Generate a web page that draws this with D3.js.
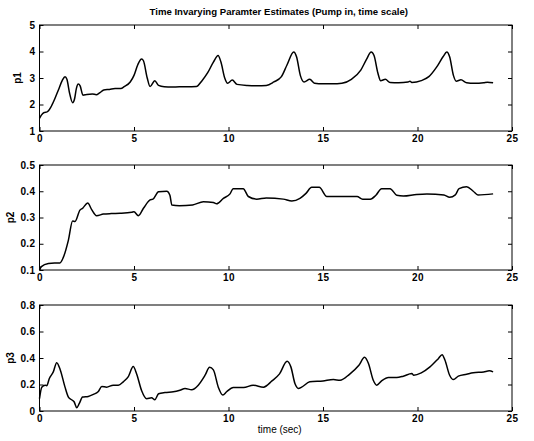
<!DOCTYPE html>
<html>
<head>
<meta charset="utf-8">
<script src="https://cdn.jsdelivr.net/npm/d3@7"></script>
<style>
  body { margin: 0; background: #fff; }
  #graph svg { display: block; }
  text { font-family: "Liberation Sans", Arial, Helvetica, sans-serif; fill: #000; }
</style>
</head>
<body>
<div id="graph"></div>
<script>
// tick labels / axis domains
const xTicks = [0, 5, 10, 15, 20, 25];
const p1Ticks = [1, 2, 3, 4, 5];
const p2Ticks = [0.1, 0.2, 0.3, 0.4, 0.5];
const p3Ticks = [0, 0.2, 0.4, 0.6, 0.8];

const titleText = "Time Invarying Paramter Estimates (Pump in, time scale)";
const xLabel = "time (sec)";

// series, [time, value]
const p1 = [[0,1.48],[0.1,1.6],[0.25,1.7],[0.4,1.72],[0.6,1.9],[0.8,2.2],[1.0,2.55],[1.2,2.9],[1.35,3.05],[1.45,2.95],
  [1.6,2.4],[1.75,2.07],[1.85,2.2],[1.95,2.6],[2.05,2.77],[2.15,2.7],[2.3,2.35],[2.5,2.38],[2.8,2.4],[3.0,2.37],
  [3.2,2.45],[3.4,2.55],[3.7,2.57],[4.0,2.6],[4.3,2.6],[4.5,2.68],[4.8,2.85],[5.0,3.1],[5.2,3.5],[5.4,3.72],
  [5.5,3.65],[5.7,3.0],[5.85,2.68],[6.1,2.9],[6.3,2.72],[6.6,2.67],[7.0,2.66],[7.4,2.67],[7.8,2.67],[8.3,2.68],
  [8.6,2.9],[8.9,3.2],[9.2,3.6],[9.45,3.85],[9.6,3.6],[9.8,3.0],[9.95,2.8],[10.2,2.92],[10.45,2.76],[11.0,2.72],
  [11.5,2.71],[12.0,2.72],[12.4,2.85],[12.8,3.05],[13.1,3.5],[13.45,3.98],[13.6,3.8],[13.8,3.1],[14.0,2.85],[14.3,2.95],
  [14.55,2.8],[15.0,2.78],[15.5,2.78],[16.0,2.8],[16.5,2.95],[17.0,3.3],[17.3,3.7],[17.55,3.98],[17.7,3.85],[17.9,3.2],
  [18.05,2.9],[18.3,2.95],[18.55,2.83],[19.0,2.82],[19.5,2.85],[19.6,2.88],[19.7,2.83],[20.2,2.9],[20.6,3.05],[21.0,3.4],
  [21.35,3.8],[21.55,3.98],[21.7,3.8],[21.9,3.1],[22.05,2.88],[22.3,2.93],[22.6,2.82],[23.0,2.8],[23.5,2.82],[23.7,2.84],[24.0,2.82]];

const p2 = [[0,0.1],[0.1,0.113],[0.47,0.125],[0.8,0.127],[1.08,0.127],[1.26,0.148],[1.53,0.214],[1.75,0.287],[1.88,0.285],
  [2.14,0.328],[2.28,0.335],[2.55,0.355],[2.76,0.33],[3.02,0.307],[3.38,0.313],[3.8,0.315],[4.26,0.316],[4.88,0.32],
  [5.0,0.322],[5.23,0.307],[5.5,0.335],[5.85,0.367],[6.0,0.37],[6.3,0.398],[6.73,0.4],[6.9,0.385],[7.0,0.348],[7.4,0.345],
  [8.1,0.348],[8.67,0.36],[9.2,0.357],[9.37,0.352],[9.73,0.373],[10.08,0.39],[10.25,0.41],[10.78,0.41],[11.05,0.38],
  [11.49,0.37],[12.0,0.374],[12.9,0.37],[13.35,0.363],[13.78,0.373],[14.1,0.392],[14.4,0.415],[14.8,0.415],[15.2,0.38],
  [16.0,0.38],[16.8,0.38],[17.1,0.37],[17.5,0.37],[17.8,0.385],[18.1,0.41],[18.55,0.41],[18.9,0.385],[19.25,0.382],
  [19.95,0.388],[20.5,0.39],[21.4,0.386],[21.7,0.377],[22.0,0.386],[22.2,0.41],[22.6,0.417],[22.95,0.4],[23.2,0.386],[24.0,0.39]];

const p3 = [[0,0.093],[0.12,0.18],[0.3,0.195],[0.38,0.19],[0.52,0.245],[0.73,0.295],[0.91,0.365],[1.1,0.31],[1.35,0.18],
  [1.53,0.105],[1.7,0.085],[1.83,0.07],[1.97,0.025],[2.1,0.055],[2.28,0.105],[2.58,0.11],[2.85,0.125],[3.1,0.145],
  [3.3,0.185],[3.55,0.18],[3.9,0.195],[4.17,0.195],[4.43,0.22],[4.7,0.26],[4.96,0.335],[5.14,0.28],[5.4,0.155],[5.67,0.093],
  [5.93,0.1],[6.1,0.085],[6.3,0.13],[6.64,0.14],[7.08,0.145],[7.43,0.157],[7.7,0.17],[8.05,0.16],[8.4,0.195],[8.76,0.27],
  [9.0,0.33],[9.2,0.31],[9.46,0.18],[9.7,0.12],[9.9,0.145],[10.25,0.178],[10.8,0.177],[11.3,0.195],[11.85,0.18],[12.3,0.227],
  [12.7,0.28],[13.1,0.375],[13.3,0.333],[13.52,0.205],[13.7,0.17],[13.87,0.18],[14.3,0.22],[15.0,0.227],[15.55,0.237],
  [15.9,0.232],[16.4,0.277],[16.9,0.345],[17.2,0.405],[17.4,0.36],[17.66,0.232],[17.84,0.195],[18.1,0.227],[18.46,0.253],
  [18.9,0.253],[19.25,0.263],[19.7,0.283],[19.8,0.27],[20.2,0.288],[20.66,0.333],[21.1,0.395],[21.3,0.425],[21.45,0.385],
  [21.7,0.27],[21.9,0.237],[22.16,0.263],[22.6,0.277],[22.95,0.288],[23.5,0.295],[23.8,0.303],[24.0,0.295]];

const panels = [
  { name: "p1", data: p1, ticks: p1Ticks, top: 25, bottom: 131, labelX: 21 },
  { name: "p2", data: p2, ticks: p2Ticks, top: 165, bottom: 270, labelX: 14 },
  { name: "p3", data: p3, ticks: p3Ticks, top: 305, bottom: 411, labelX: 14 }
];

let width = 534, height = 441;
let left = 39.5, right = 512;
let tickLen = 4;

var svg = d3.select("#graph")
            .append("svg")
            .attr("width", width)
            .attr("height", height);

var x_scale = d3.scaleLinear()
                .domain([0, 25])
                .range([left, right]);

var fmt = d3.format("");

panels.forEach(function (p) {
    let y_scale = d3.scaleLinear()
                    .domain(d3.extent(p.ticks))
                    .range([p.bottom, p.top]);

    // axes, ticks pointing inward (matlab style)
    svg.append("g")
       .attr("transform", `translate(0,${p.bottom})`)
       .call(d3.axisBottom(x_scale).tickValues(xTicks).tickSizeInner(-tickLen).tickSizeOuter(0).tickPadding(4))
       .call(g => g.select(".domain").remove());

    svg.append("g")
       .attr("transform", `translate(0,${p.top})`)
       .call(d3.axisTop(x_scale).tickValues(xTicks).tickSizeInner(-tickLen).tickSizeOuter(0).tickFormat(""))
       .call(g => g.select(".domain").remove());

    svg.append("g")
       .attr("transform", `translate(${left},0)`)
       .call(d3.axisLeft(y_scale).tickValues(p.ticks).tickSizeInner(-tickLen).tickSizeOuter(0).tickPadding(4).tickFormat(fmt))
       .call(g => g.select(".domain").remove());

    svg.append("g")
       .attr("transform", `translate(${right},0)`)
       .call(d3.axisRight(y_scale).tickValues(p.ticks).tickSizeInner(-tickLen).tickSizeOuter(0).tickFormat(""))
       .call(g => g.select(".domain").remove());

    svg.selectAll(".tick text")
       .attr("font-size", "10px")
       .attr("font-weight", "bold")
       .style("letter-spacing", "0.4px")
       .style("font-family", '"Liberation Sans", Arial, sans-serif');

    svg.append("rect")
       .attr("x", left)
       .attr("y", p.top)
       .attr("width", right - left)
       .attr("height", p.bottom - p.top)
       .attr("fill", "none")
       .attr("stroke", "#000")
       .attr("stroke-width", 1);

    let line = d3.line()
                 .x(d => x_scale(d[0]))
                 .y(d => y_scale(d[1]))
                 .curve(d3.curveMonotoneX);

    svg.append("path")
       .datum(p.data)
       .attr("d", line)
       .attr("fill", "none")
       .attr("stroke", "#000")
       .attr("stroke-width", 1.5)
       .attr("stroke-linejoin", "round");

    svg.append("text")
       .attr("font-size", "10px")
       .attr("font-weight", "bold")
       .attr("transform", `translate(${p.labelX},${(p.top + p.bottom) / 2}) rotate(-90)`)
       .style("text-anchor", "middle")
       .text(p.name);
});

svg.append("text")
   .attr("font-size", "9.6px")
   .attr("font-weight", "bold")
   .attr("x", (left + right) / 2 + 3)
   .attr("y", 15)
   .style("text-anchor", "middle")
   .text(titleText);

svg.append("text")
   .attr("font-size", "10px")
   .attr("x", (left + right) / 2 + 4)
   .attr("y", 433)
   .style("text-anchor", "middle")
   .text(xLabel);
</script>
</body>
</html>
